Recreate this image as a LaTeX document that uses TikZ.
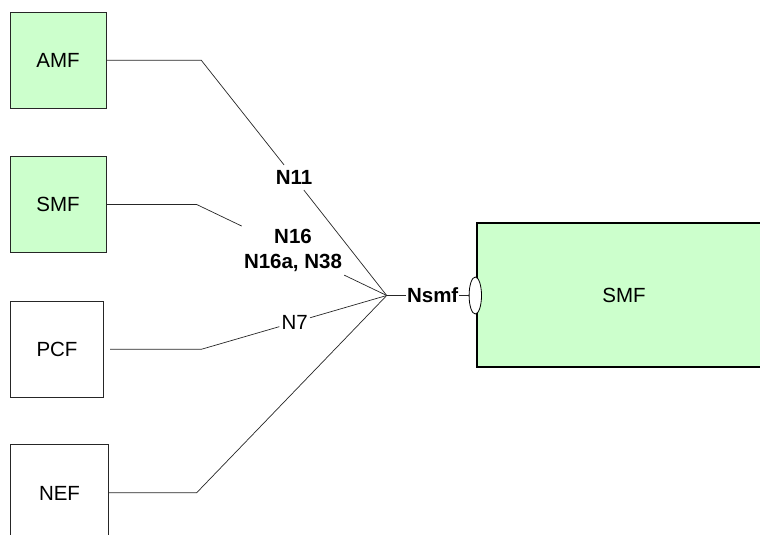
\documentclass[tikz,border=0pt]{standalone}
\usepackage{fontspec}
\setmainfont{Liberation Sans}
\usetikzlibrary{shapes.geometric}
\definecolor{boxgreen}{HTML}{CCFFCC}
\begin{document}
\begin{tikzpicture}[x=1pt,y=-1pt,
  nf/.style={draw=black!85, line width=0.8pt, inner sep=0pt, font=\fontsize{20.5}{24}\selectfont, text height=14.6pt, text depth=0pt},
  lbl/.style={inner xsep=2pt, inner ysep=5pt, font=\fontsize{20.5}{25}\selectfont\bfseries, align=center},
  single/.style={text height=14.6pt, text depth=0pt},
  conn/.style={draw=black!85, line width=0.7pt}]
\useasboundingbox (0,0) rectangle (760,535);
% boxes
\node[nf, fill=boxgreen, minimum width=96pt, minimum height=96pt] (amf) at (58,60.3) {AMF};
\node[nf, fill=boxgreen, minimum width=96pt, minimum height=96pt] (smfa) at (58,204.5) {SMF};
\node[nf, minimum width=93.4pt, minimum height=96pt] (pcf) at (57,349.3) {PCF};
\node[nf, minimum width=98.4pt, minimum height=97pt] (nef) at (59.5,492.7) {NEF};
\node[nf, fill=boxgreen, draw=black, line width=2pt, minimum width=294.6pt, minimum height=144pt] (smf) at (624,295) {SMF};
\node[draw=black, line width=0.8pt, fill=white, ellipse, minimum width=12.4pt, minimum height=37pt, inner sep=0pt] (port) at (475.3,295.5) {};
% points
\coordinate (hub) at (386.7,295.5);
\coordinate (b1) at (201.3,60.3);
\coordinate (b2) at (196.7,204.5);
\coordinate (b3) at (201.3,349.3);
\coordinate (b4) at (196.7,492.7);
% labels
\node[lbl, single] (n11) at (294,177.5) {N11};
\node[lbl] (n16) at (293,250.6) {N16\\N16a, N38};
\node[lbl, single, font=\fontsize{20.5}{25}\selectfont] (n7) at (294.7,322.2) {N7};
\node[lbl, single, inner xsep=0.5pt] (nsmf) at (432.7,295.5) {Nsmf};
% connectors
\draw[conn] (amf.east) -- (b1) -- (n11) -- (hub);
\draw[conn] (smfa.east) -- (b2) -- (n16) -- (hub);
\draw[conn] ([xshift=6pt]pcf.east) -- (b3) -- (n7) -- (hub);
\draw[conn] (nef.east) -- (b4) -- (hub);
\draw[conn] (hub) -- (nsmf) -- (port);
\end{tikzpicture}
\end{document}
